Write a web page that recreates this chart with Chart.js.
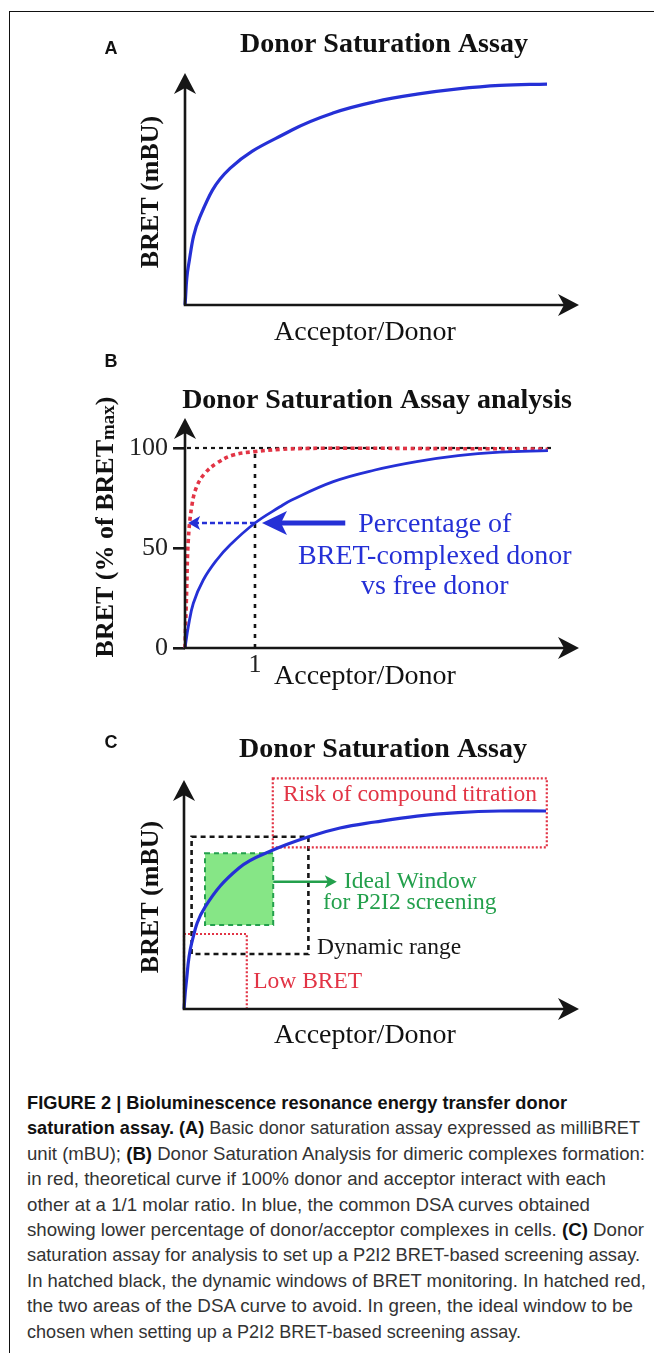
<!DOCTYPE html>
<html>
<head>
<meta charset="utf-8">
<script src="https://cdn.jsdelivr.net/npm/chart.js@4.4.1/dist/chart.umd.min.js"></script>
<style>
body { margin: 0; background: #fff; width: 654px; height: 1353px; overflow: hidden; position: relative; }
#frame { position: absolute; left: 9px; top: 11px; width: 645px; height: 1342px; border-left: 1px solid #111; border-top: 1px solid #111; }
canvas { position: absolute; left: 0; }
.cap { position: absolute; left: 27px; white-space: nowrap; font-family: "Liberation Sans", Arial, sans-serif; font-size: 19px; line-height: 22px; color: #333; transform-origin: 0 50%; }
.cap b { color: #111; }
</style>
</head>
<body>
<div id="frame"></div>
<canvas id="cA" width="654" height="350" style="top:0"></canvas>
<canvas id="cB" width="654" height="350" style="top:350px"></canvas>
<canvas id="cC" width="654" height="360" style="top:700px"></canvas>

<div class="cap" style="top:1092px"><b>FIGURE 2 | Bioluminescence resonance energy transfer donor</b></div>
<div class="cap" style="top:1117px"><b>saturation assay. (A)</b> Basic donor saturation assay expressed as milliBRET</div>
<div class="cap" style="top:1143px">unit (mBU); <b>(B)</b> Donor Saturation Analysis for dimeric complexes formation:</div>
<div class="cap" style="top:1168px">in red, theoretical curve if 100% donor and acceptor interact with each</div>
<div class="cap" style="top:1194px">other at a 1/1 molar ratio. In blue, the common DSA curves obtained</div>
<div class="cap" style="top:1219px">showing lower percentage of donor/acceptor complexes in cells. <b>(C)</b> Donor</div>
<div class="cap" style="top:1244px">saturation assay for analysis to set up a P2I2 BRET-based screening assay.</div>
<div class="cap" style="top:1270px">In hatched black, the dynamic windows of BRET monitoring. In hatched red,</div>
<div class="cap" style="top:1295px">the two areas of the DSA curve to avoid. In green, the ideal window to be</div>
<div class="cap" style="top:1321px">chosen when setting up a P2I2 BRET-based screening assay.</div>

<script>
// values (arbitrary units, as in the figure)
// A: donor saturation curve
var satA_x = [0, 0.83, 3.75, 11.25, 26.75, 37, 47.5, 58, 68.25, 78.75, 90.5];
var satA_y = [0, 16.7, 38.4, 59.4, 76.1, 83.5, 88.4, 91.7, 94, 95.5, 96.1];

// B: common DSA curve (blue) and theoretical 1/1 curve (red), % of BRETmax
var dsaB_x = [0, 0.047, 0.119, 0.261, 0.453, 0.643, 1.0, 1.357, 1.524, 2.119, 2.714, 3.31, 3.904, 4.5, 5.186];
var dsaB_y = [0, 10.6, 22.4, 34, 44, 51.5, 62.5, 70.6, 74, 83.2, 89, 93.2, 96.2, 97.9, 98.7];
var theoB_x = [0, 0.024, 0.047, 0.096, 0.167, 0.286, 0.453, 0.69, 1.0, 1.357, 1.786, 2.5, 3.5, 4.5, 5.186];
var theoB_y = [0, 29, 54, 70.7, 80.7, 87.4, 92.4, 96.5, 98.2, 99.3, 99.8, 99.9, 99.7, 99.6, 99.4];
var yTicksB = [0, 50, 100];
var xTicksB = [1];
var refB = { ratio: 1, max: 100, complexed: 62.5 };

// C: donor saturation curve and the windows on it [x0, y0, x1, y1]
var satC_x = [0, 0.5, 1.925, 5.25, 13.75, 22.25, 31, 39, 47.75, 58.25, 68.5, 79, 90.5];
var satC_y = [0, 10.4, 28.7, 44.3, 61.3, 69.1, 74.8, 78.7, 81.3, 83.9, 85.4, 86.1, 86.1];
var riskBox = [22.2, 70.3, 90.7, 100.3];
var dynamicBox = [1.9, 23.9, 31.1, 74.9];
var idealBox = [5.25, 36.5, 22.3, 67.7];
var lowBox = [0, 0, 15.7, 32.6];

var BLUE = '#2530d6', RED = '#e23445', GREEN = '#23a04c', INK = '#161616';
var SERIF = '"Liberation Serif", "Times New Roman", serif';

function lineSet(xs, ys, color, width, dash) {
	return {
		data: xs.map(function(v, i) { return { x: v, y: ys[i] }; }),
		borderColor: color, borderWidth: width, borderDash: dash || [],
		pointRadius: 0, tension: 0.4, fill: false, clip: false
	};
}

function hidden(min, max) {
	return { type: 'linear', display: false, min: min, max: max };
}

function head(ctx, x, y, ang, len, half, notch) {
	ctx.save();
	ctx.translate(x, y);
	ctx.rotate(ang);
	ctx.beginPath();
	ctx.moveTo(0, 0);
	ctx.lineTo(-len, -half);
	ctx.lineTo(-len + notch, 0);
	ctx.lineTo(-len, half);
	ctx.closePath();
	ctx.fill();
	ctx.restore();
}

function axes(chart) {
	var ctx = chart.ctx, a = chart.chartArea;
	var x0 = chart.scales.x.getPixelForValue(0), y0 = chart.scales.y.getPixelForValue(0);
	ctx.save();
	ctx.strokeStyle = ctx.fillStyle = INK;
	ctx.lineWidth = 2.6;
	ctx.setLineDash([]);
	ctx.beginPath();
	ctx.moveTo(x0 - 1.3, y0); ctx.lineTo(a.right - 12, y0);
	ctx.moveTo(x0, y0 + 1.3); ctx.lineTo(x0, a.top + 12);
	ctx.stroke();
	head(ctx, a.right, y0, 0, 21, 11, 6);
	head(ctx, x0, a.top, -Math.PI / 2, 21, 11, 6);
	ctx.restore();
}

function text(ctx, s, x, y, font, color, align) {
	ctx.save();
	ctx.font = font;
	ctx.fillStyle = color;
	ctx.textAlign = align || 'center';
	ctx.textBaseline = 'middle';
	ctx.fillText(s, x, y);
	ctx.restore();
}

function titleAndLabels(ctx, letter, letterY, title, titleX, titleY, ylab, ylabX, ylabY, xlabY) {
	text(ctx, letter, 111, letterY, 'bold 18px "Liberation Sans", Arial, sans-serif', '#111');
	ctx.save();
	ctx.font = 'bold 28px ' + SERIF;
	ctx.fillStyle = '#111';
	ctx.textAlign = 'center';
	ctx.textBaseline = 'alphabetic';
	ctx.fillText(title, titleX, titleY);
	ctx.restore();
	if (ylab) {
		ctx.save();
		ctx.translate(ylabX, ylabY);
		ctx.rotate(-Math.PI / 2);
		text(ctx, ylab, 0, 0, 'bold 26px ' + SERIF, '#111');
		ctx.restore();
	}
	text(ctx, 'Acceptor/Donor', 274, xlabY, '28px ' + SERIF, '#111', 'left');
}

function box(chart, b, stroke, dash, width, fill) {
	var ctx = chart.ctx, x = chart.scales.x, y = chart.scales.y;
	var l = x.getPixelForValue(b[0]), r = x.getPixelForValue(b[2]);
	var t = y.getPixelForValue(b[3]), bt = y.getPixelForValue(b[1]);
	ctx.save();
	if (fill) {
		ctx.fillStyle = fill;
		ctx.fillRect(l, t, r - l, bt - t);
	}
	ctx.strokeStyle = stroke;
	ctx.lineWidth = width;
	ctx.setLineDash(dash);
	ctx.strokeRect(l, t, r - l, bt - t);
	ctx.restore();
}

var base = {
	responsive: false, animation: false, devicePixelRatio: 1, events: [],
	plugins: { legend: { display: false }, tooltip: { enabled: false } }
};

function opts(padding, scales) {
	return Object.assign({}, base, { layout: { padding: padding }, scales: scales });
}

// ---------- A ----------
new Chart(document.getElementById('cA'), {
	type: 'line',
	data: { datasets: [lineSet(satA_x, satA_y, BLUE, 3.2)] },
	options: opts({ left: 185, right: 75, top: 73, bottom: 45 }, { x: hidden(0, 98.5), y: hidden(0, 100.9) }),
	plugins: [{
		id: 'panelA',
		afterDraw: function(c) {
			axes(c);
			titleAndLabels(c.ctx, 'A', 49, 'Donor Saturation Assay', 384, 52, 'BRET (mBU)', 151, 192, 333);
		}
	}]
});

// ---------- B ----------
new Chart(document.getElementById('cB'), {
	type: 'line',
	data: { datasets: [
		lineSet(dsaB_x, dsaB_y, BLUE, 2.8),
		lineSet(theoB_x, theoB_y, RED, 3.6, [4, 3.5])
	] },
	options: opts({ left: 120, right: 75, top: 68, bottom: 22 }, {
		x: {
			type: 'linear', min: 0, max: 5.63,
			afterFit: function(s) { s.height = 30; },
			afterBuildTicks: function(s) { s.ticks = xTicksB.map(function(v) { return { value: v }; }); },
			ticks: { font: { family: SERIF, size: 26 }, color: '#222', padding: 2 },
			grid: { display: false, drawTicks: false },
			border: { display: false }
		},
		y: {
			type: 'linear', min: 0, max: 115,
			afterFit: function(s) { s.width = 65; },
			afterBuildTicks: function(s) { s.ticks = yTicksB.map(function(v) { return { value: v }; }); },
			ticks: { font: { family: SERIF, size: 26 }, color: '#222', padding: 5 },
			grid: { drawOnChartArea: false, drawTicks: true, tickLength: 12, color: INK, lineWidth: 2.6 },
			border: { display: false }
		}
	}),
	plugins: [{
		id: 'panelB',
		beforeDatasetsDraw: function(c) {
			var ctx = c.ctx, x = c.scales.x, y = c.scales.y;
			var y100 = y.getPixelForValue(refB.max), x1 = x.getPixelForValue(refB.ratio);
			ctx.save();
			ctx.strokeStyle = INK;
			ctx.lineWidth = 2.2;
			ctx.setLineDash([4, 4]);
			ctx.beginPath();
			ctx.moveTo(x.getPixelForValue(0) + 2, y100);
			ctx.lineTo(x.getPixelForValue(5.24), y100);
			ctx.stroke();
			ctx.lineWidth = 2.6;
			ctx.setLineDash([4, 6]);
			ctx.beginPath();
			ctx.moveTo(x1, y.getPixelForValue(0));
			ctx.lineTo(x1, y100);
			ctx.stroke();
			ctx.restore();
		},
		afterDraw: function(c) {
			var ctx = c.ctx, x = c.scales.x, y = c.scales.y;
			axes(c);
			var yc = y.getPixelForValue(refB.complexed);
			var tipDot = x.getPixelForValue(0.045), x1 = x.getPixelForValue(refB.ratio);
			ctx.save();
			ctx.strokeStyle = ctx.fillStyle = BLUE;
			ctx.lineWidth = 2.6;
			ctx.setLineDash([5, 3]);
			ctx.beginPath();
			ctx.moveTo(x1, yc); ctx.lineTo(tipDot + 8, yc);
			ctx.stroke();
			ctx.setLineDash([]);
			head(ctx, tipDot, yc, Math.PI, 12, 7, 3);
			var tip = x.getPixelForValue(1.1);
			ctx.lineWidth = 5;
			ctx.beginPath();
			ctx.moveTo(x.getPixelForValue(2.29), yc); ctx.lineTo(tip + 18, yc);
			ctx.stroke();
			head(ctx, tip, yc, Math.PI, 25, 12, 6);
			ctx.restore();
			var tx = x.getPixelForValue(3.57);
			text(ctx, 'Percentage of', tx, y.getPixelForValue(61.5), '28px ' + SERIF, BLUE);
			text(ctx, 'BRET-complexed donor', tx, y.getPixelForValue(45.5), '28px ' + SERIF, BLUE);
			text(ctx, 'vs free donor', tx, y.getPixelForValue(30.5), '28px ' + SERIF, BLUE);
			titleAndLabels(ctx, 'B', 12, 'Donor Saturation Assay analysis', 377, 58, null, 0, 0, 327);
			// y label with subscript "max"
			ctx.save();
			ctx.translate(106, 177);
			ctx.rotate(-Math.PI / 2);
			ctx.fillStyle = '#111';
			ctx.textBaseline = 'middle';
			ctx.textAlign = 'left';
			var main = 'BRET (% of BRET', sub = 'max', tail = ')';
			var fMain = 'bold 26px ' + SERIF, fSub = 'bold 19px ' + SERIF;
			ctx.font = fMain; var w1 = ctx.measureText(main).width, w3 = ctx.measureText(tail).width;
			ctx.font = fSub; var w2 = ctx.measureText(sub).width;
			var sx = -(w1 + w2 + w3) / 2;
			ctx.font = fMain; ctx.fillText(main, sx, 0);
			ctx.font = fSub; ctx.fillText(sub, sx + w1, 3);
			ctx.font = fMain; ctx.fillText(tail, sx + w1 + w2, 0);
			ctx.restore();
		}
	}]
});

// ---------- C ----------
new Chart(document.getElementById('cC'), {
	type: 'line',
	data: { datasets: [lineSet(satC_x, satC_y, BLUE, 3.2)] },
	options: opts({ left: 184, right: 75, top: 80, bottom: 51 }, { x: hidden(0, 98.75), y: hidden(0, 99.57) }),
	plugins: [{
		id: 'panelC',
		beforeDatasetsDraw: function(c) {
			box(c, idealBox, GREEN, [5, 4], 2, '#86e686');
			box(c, dynamicBox, INK, [5, 4], 2.6);
			box(c, riskBox, RED, [2, 2], 2.2);
			box(c, lowBox, RED, [2, 2], 2.2);
		},
		afterDraw: function(c) {
			var ctx = c.ctx, x = c.scales.x, y = c.scales.y;
			axes(c);
			var ya = y.getPixelForValue(55.3), tip = x.getPixelForValue(38.2);
			ctx.save();
			ctx.strokeStyle = ctx.fillStyle = GREEN;
			ctx.lineWidth = 2.4;
			ctx.beginPath();
			ctx.moveTo(x.getPixelForValue(idealBox[2]), ya); ctx.lineTo(tip - 8, ya);
			ctx.stroke();
			head(ctx, tip, ya, 0, 12, 6.5, 3);
			ctx.restore();
			var f = '23.5px ' + SERIF;
			text(ctx, 'Risk of compound titration', x.getPixelForValue(24.75), y.getPixelForValue(93), f, RED, 'left');
			text(ctx, 'Ideal Window', x.getPixelForValue(40), y.getPixelForValue(55.3), f, GREEN, 'left');
			text(ctx, 'for P2I2 screening', x.getPixelForValue(34.75), y.getPixelForValue(46), f, GREEN, 'left');
			text(ctx, 'Dynamic range', x.getPixelForValue(33.25), y.getPixelForValue(26.5), f, INK, 'left');
			text(ctx, 'Low BRET', x.getPixelForValue(17.3), y.getPixelForValue(11.9), f, RED, 'left');
			titleAndLabels(ctx, 'C', 43, 'Donor Saturation Assay', 383, 57, 'BRET (mBU)', 151, 197, 336);
		}
	}]
});

// caption lines are stretched to the widths they have in the figure
var capEnds = [567, 640, 645, 606, 590, 644, 640, 646, 633, 521];
function fitCaption() {
	var lines = document.querySelectorAll('.cap');
	for (var i = 0; i < lines.length; i++) {
		lines[i].style.transform = 'none';
		var w = lines[i].getBoundingClientRect().width;
		lines[i].style.transform = 'scaleX(' + ((capEnds[i] - 27) / w) + ')';
	}
}
fitCaption();
if (document.fonts) document.fonts.ready.then(fitCaption);
</script>
</body>
</html>
